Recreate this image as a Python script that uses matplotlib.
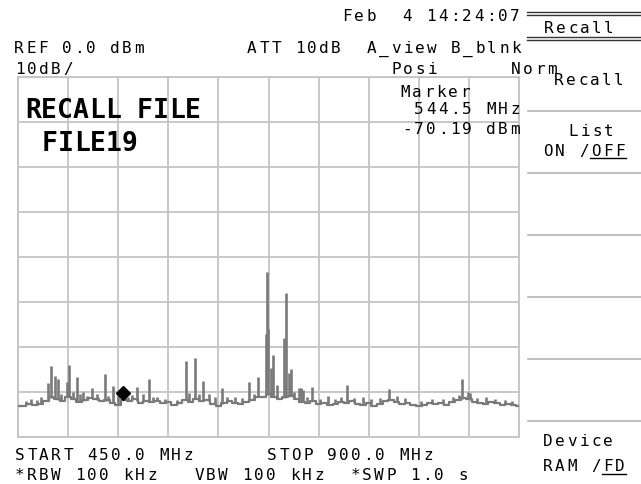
import numpy as np
import matplotlib
matplotlib.use("Agg")
import matplotlib.pyplot as plt

# sweep settings
start_mhz, stop_mhz = 450.0, 900.0
ref_dbm, db_per_div = 0.0, 10

# noise floor, one value per 5 MHz
floor_mhz = np.arange(450, 901, 5)
floor_dbm = [-73.1, -73.0, -72.6, -72.9, -72.7, -72.0, -71.2, -71.6, -72.0, -71.0,
             -71.5, -72.2, -71.8, -71.3, -71.6, -72.1, -71.8, -72.4, -72.8, -71.8,
             -72.0, -71.6, -72.4, -72.0, -72.3, -72.1, -72.5, -72.2, -72.9, -72.4,
             -71.8, -72.2, -71.5, -72.0, -71.8, -72.6, -73.0, -72.4, -72.0, -72.5,
             -72.7, -72.3, -71.8, -71.2, -71.0, -70.5, -71.0, -71.5, -71.2, -70.8,
             -71.6, -72.2, -72.5, -72.0, -72.6, -72.4, -72.9, -72.6, -72.3, -72.5,
             -72.0, -72.6, -72.8, -72.4, -73.0, -72.6, -72.0, -71.8, -72.2, -72.6,
             -72.4, -72.8, -73.0, -72.9, -72.5, -72.7, -72.4, -72.8, -72.2, -71.8,
             -71.4, -71.6, -72.2, -72.4, -72.6, -72.3, -72.5, -72.8, -72.6, -72.8,
             -73.1]

# spurs / carriers
spike_mhz = [457.0, 462.0, 467.5, 471.0, 476.9, 479.6, 483.2, 485.9, 489.0, 494.0,
             495.8, 499.5, 503.0, 506.0, 508.4, 512.0, 516.5, 521.0, 528.1, 531.0,
             535.3, 540.0, 549.0, 552.0, 556.9, 562.0, 567.7, 571.0, 575.0, 582.0,
             593.0, 600.9, 604.0, 609.0, 612.5, 616.2, 621.6, 627.0, 633.2, 638.0,
             645.0, 651.0, 657.5, 662.0, 665.6, 672.8, 673.7, 674.6, 677.3, 679.1,
             683.0, 688.9, 690.7, 693.4, 695.2, 698.0, 702.4, 704.2, 706.0, 710.0,
             714.1, 721.0, 728.0, 735.0, 740.0, 745.5, 752.0, 760.0, 767.0, 775.0,
             783.2, 790.0, 798.0, 812.0, 822.0, 832.0, 841.0, 846.0, 848.8, 854.2,
             856.0, 862.0, 870.0, 878.0, 887.0, 894.0]
spike_dbm = [-72.0, -71.6, -71.8, -71.2, -68.0, -64.2, -66.5, -67.0, -70.5, -67.8,
             -64.0, -70.0, -66.7, -70.4, -70.0, -70.8, -69.0, -70.5, -66.0, -70.9,
             -68.7, -70.8, -71.0, -70.6, -68.9, -70.5, -67.0, -71.0, -71.0, -71.6,
             -71.8, -63.0, -70.2, -62.5, -70.4, -67.5, -70.5, -71.0, -69.0, -71.2,
             -71.0, -71.4, -67.8, -70.5, -66.6, -57.0, -43.3, -56.0, -64.7, -61.8,
             -68.5, -58.0, -48.0, -65.8, -64.9, -70.0, -69.0, -69.0, -69.5, -71.0,
             -68.9, -71.5, -70.8, -71.6, -71.2, -68.4, -71.3, -71.0, -71.5, -71.4,
             -69.3, -70.8, -71.4, -71.9, -71.5, -71.6, -71.2, -70.6, -67.0, -70.0,
             -70.2, -71.3, -71.2, -71.6, -71.8, -71.9]

marker_mhz, marker_dbm = 544.5, -70.19

top_line = "Feb  4 14:24:07"
hdr_left = "REF 0.0 dBm"
hdr_mid = "ATT 10dB  A_view B_blnk"
scale_txt = "10dB/"
mode_txt = "Posi      Norm"
mk_lines = ["Marker", "544.5 MHz", "-70.19 dBm"]
bottom_1 = ["START 450.0 MHz", "STOP 900.0 MHz"]
bottom_2 = ["*RBW 100 kHz", "VBW 100 kHz", "*SWP 1.0 s"]

W, H = 641, 484
fig = plt.figure(figsize=(W / 100, H / 100), dpi=100)
fig.patch.set_facecolor("white")

grid_c = "#c4c4c4"
trace_c = "#7a7a7a"

# graticule: 10 x 8 divisions
ax = fig.add_axes([18 / W, 1 - 437 / H, 501 / W, 360 / H])
ax.set_xlim(start_mhz, stop_mhz)
ax.set_ylim(ref_dbm - 8 * db_per_div, ref_dbm)
ax.set_xticks(np.linspace(start_mhz, stop_mhz, 11))
ax.set_yticks(np.arange(ref_dbm - 80, ref_dbm + 1, db_per_div))
ax.grid(True, color=grid_c, lw=1.3)
ax.tick_params(length=0, labelbottom=False, labelleft=False)
for s in ax.spines.values():
    s.set_color(grid_c)
    s.set_linewidth(1.3)
ax.set_axisbelow(True)

ax.step(floor_mhz, floor_dbm, where="mid", color=trace_c, lw=1.6, zorder=3)
base = np.interp(spike_mhz, floor_mhz, floor_dbm)
ax.vlines(spike_mhz, base, spike_dbm, color=trace_c, lw=1.9, zorder=3)
ax.plot([marker_mhz], [marker_dbm], marker="D", ms=7.5, color="black", zorder=5)

# text layer in pixel coordinates
tx = fig.add_axes([0, 0, 1, 1])
tx.set_xlim(0, W)
tx.set_ylim(H, 0)
tx.axis("off")
tx.patch.set_alpha(0)


def term(x, yc, s, pitch=12, size=11.5, weight="normal", cap=11.5):
    # fixed-pitch characters like the analyzer screen
    for i, ch in enumerate(s):
        if ch != " ":
            tx.text(x + (i + 0.5) * pitch, yc + cap / 2, ch, ha="center", va="baseline",
                    fontsize=size, family="DejaVu Sans Mono", weight=weight, color="black")


term(341, 15.5, top_line)
term(13, 47.5, hdr_left)
term(246, 47.5, hdr_mid)
term(14, 68.5, scale_txt)
term(390, 68.5, mode_txt)
term(399, 91.5, mk_lines[0])
term(413, 108.5, mk_lines[1])
term(401, 128.5, mk_lines[2])

term(25, 108, "RECALL FILE", pitch=16, size=19, weight="bold", cap=20)
term(42, 141, "FILE19", pitch=16, size=19, weight="bold", cap=20)

term(14, 454.5, bottom_1[0])
term(266, 454.5, bottom_1[1])
term(14, 474, bottom_2[0])
term(193, 474, bottom_2[1])
term(349, 474, bottom_2[2])

# soft key panel
for y in (12, 15, 37, 40):
    tx.plot([527, W], [y, y], color="#333333", lw=1.0)
term(543, 27.5, "Recall")
term(553, 79, "Recall")
for y in (111, 173, 235, 297, 359, 421):
    tx.plot([528, W], [y, y], color="#b4b4b4", lw=1.2)
term(567, 130, "List")
term(542, 150, "ON /OFF")
tx.plot([590, 626], [158, 158], color="black", lw=1.0)
term(542, 440, "Device")
term(542, 465, "RAM /FD")
tx.plot([602, 626], [474, 474], color="black", lw=1.0)

fig.savefig("out.png", dpi=100)
